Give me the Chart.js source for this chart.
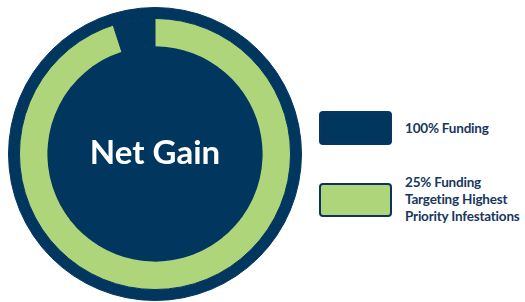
<!DOCTYPE html>
<html>
<head>
<meta charset="utf-8">
<script src="https://cdn.jsdelivr.net/npm/chart.js@4/dist/chart.umd.min.js"></script>
<style>
  html, body { margin: 0; padding: 0; background: #fff; }
  body { width: 525px; height: 302px; position: relative; overflow: hidden; font-family: Lato, "Open Sans", sans-serif; }
  #wrap { position: absolute; left: 0; top: 0; width: 310px; height: 302px; }
  #legend { position: absolute; left: 319px; top: 0; width: 206px; height: 302px; }
  .item { position: absolute; left: 0; display: flex; align-items: center; white-space: nowrap; }
  .box { width: 69px; height: 30px; border-radius: 4px; border: 2px solid #0b3560; flex: none; }
  .txt { margin-left: 13px; color: #17375e; font-weight: bold; font-size: 13.5px; letter-spacing: -0.2px; line-height: 17px; }
</style>
</head>
<body>
<div id="wrap"><canvas id="ring"></canvas></div>
<div id="legend"></div>
<script>
// data
const legendLabels = ["100% Funding", ["25% Funding", "Targeting Highest", "Priority Infestations"]];
const legendColors = ["#01365e", "#afd57b"];
const legendTops = [111, 174];
const greenShare = [95, 5];   // green arc vs. gap at the top
const centerLabel = "Net Gain";

const navy = legendColors[0];
const green = legendColors[1];

// legend
const legend = document.getElementById("legend");
legendLabels.forEach((lab, i) => {
  const item = document.createElement("div");
  item.className = "item";
  item.style.top = legendTops[i] + "px";
  item.style.height = (i === 0 ? 34 : 51) + "px";
  const box = document.createElement("div");
  box.className = "box";
  box.style.background = legendColors[i];
  const txt = document.createElement("div");
  txt.className = "txt";
  txt.innerHTML = [].concat(lab).join("<br>");
  item.appendChild(box);
  item.appendChild(txt);
  legend.appendChild(item);
});

// center text
const centerText = {
  id: "centerText",
  afterDraw(chart) {
    const meta = chart.getDatasetMeta(0).data[0];
    const ctx = chart.ctx;
    ctx.save();
    ctx.fillStyle = "#ffffff";
    ctx.font = "bold 33px Lato, 'Open Sans', sans-serif";
    ctx.textAlign = "center";
    ctx.textBaseline = "alphabetic";
    ctx.fillText(centerLabel, meta.x, meta.y + 10);
    ctx.restore();
  }
};

const ctx = document.getElementById("ring").getContext("2d");
new Chart(ctx, {
  type: "doughnut",
  data: {
    labels: ["25% Funding", "gap"],
    datasets: [
      {
        label: "rim",
        data: [100],
        backgroundColor: [navy],
        borderColor: navy,
        borderWidth: 1,
        weight: 11
      },
      {
        label: "25% Funding",
        data: greenShare,
        backgroundColor: [green, navy],
        borderColor: [green, navy],
        borderWidth: [0, 1],
        weight: 28
      },
      {
        label: "100% Funding",
        data: [100],
        backgroundColor: [navy],
        borderColor: navy,
        borderWidth: 1,
        weight: 108
      }
    ]
  },
  options: {
    responsive: true,
    maintainAspectRatio: false,
    animation: false,
    cutout: 0,
    layout: { padding: { top: 7, bottom: 1, left: 8, right: 8 } },
    plugins: {
      legend: { display: false },
      tooltip: { enabled: false }
    }
  },
  plugins: [centerText]
});
</script>
</body>
</html>
